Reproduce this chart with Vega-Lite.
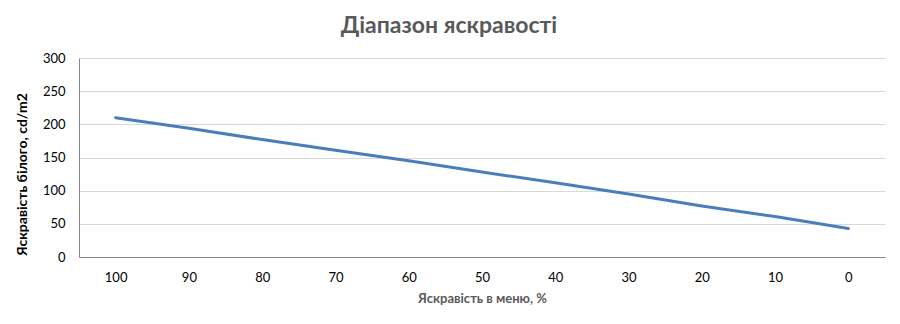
{
  "$schema": "https://vega.github.io/schema/vega-lite/v6.json",
  "width": 806,
  "height": 199,
  "autosize": "none",
  "padding": {"left": 79, "top": 58, "right": 15, "bottom": 67},
  "background": "white",
  "title": {
    "text": "Діапазон яскравості",
    "anchor": "middle",
    "dx": -33,
    "offset": 14,
    "font": "Lato",
    "fontSize": 23,
    "fontWeight": "bold",
    "color": "#595959"
  },
  "data": {
    "values": [
      {"menu": "100", "nits": 210},
      {"menu": "90", "nits": 194},
      {"menu": "80", "nits": 177},
      {"menu": "70", "nits": 161},
      {"menu": "60", "nits": 145},
      {"menu": "50", "nits": 128},
      {"menu": "40", "nits": 112},
      {"menu": "30", "nits": 95},
      {"menu": "20", "nits": 77},
      {"menu": "10", "nits": 61},
      {"menu": "0", "nits": 43}
    ]
  },
  "mark": {"type": "line", "color": "#4a7ebb", "strokeWidth": 3, "strokeCap": "round"},
  "encoding": {
    "x": {
      "field": "menu",
      "type": "ordinal",
      "sort": null,
      "scale": {"type": "point", "padding": 0.5},
      "axis": {
        "title": "Яскравість в меню, %",
        "labelAngle": 0,
        "ticks": false,
        "grid": false,
        "domainColor": "#868686",
        "labelPadding": 14,
        "titlePadding": 8
      }
    },
    "y": {
      "field": "nits",
      "type": "quantitative",
      "scale": {"domain": [0, 300], "nice": false},
      "axis": {
        "title": "Яскравість білого, cd/m2",
        "values": [0, 50, 100, 150, 200, 250, 300],
        "ticks": false,
        "grid": true,
        "gridColor": "#d9d9d9",
        "domain": true,
        "domainColor": "#868686",
        "labelPadding": 14,
        "titleX": -50,
        "titleY": 116,
        "titleFontSize": 14
      }
    }
  },
  "config": {
    "view": {"stroke": null},
    "axis": {
      "labelFont": "Lato",
      "labelFontSize": 13,
      "labelColor": "#000000",
      "titleFont": "Lato",
      "titleFontSize": 13,
      "titleFontWeight": "bold",
      "titleColor": "#000000"
    },
    "axisX": {"titleColor": "#595959"}
  }
}
